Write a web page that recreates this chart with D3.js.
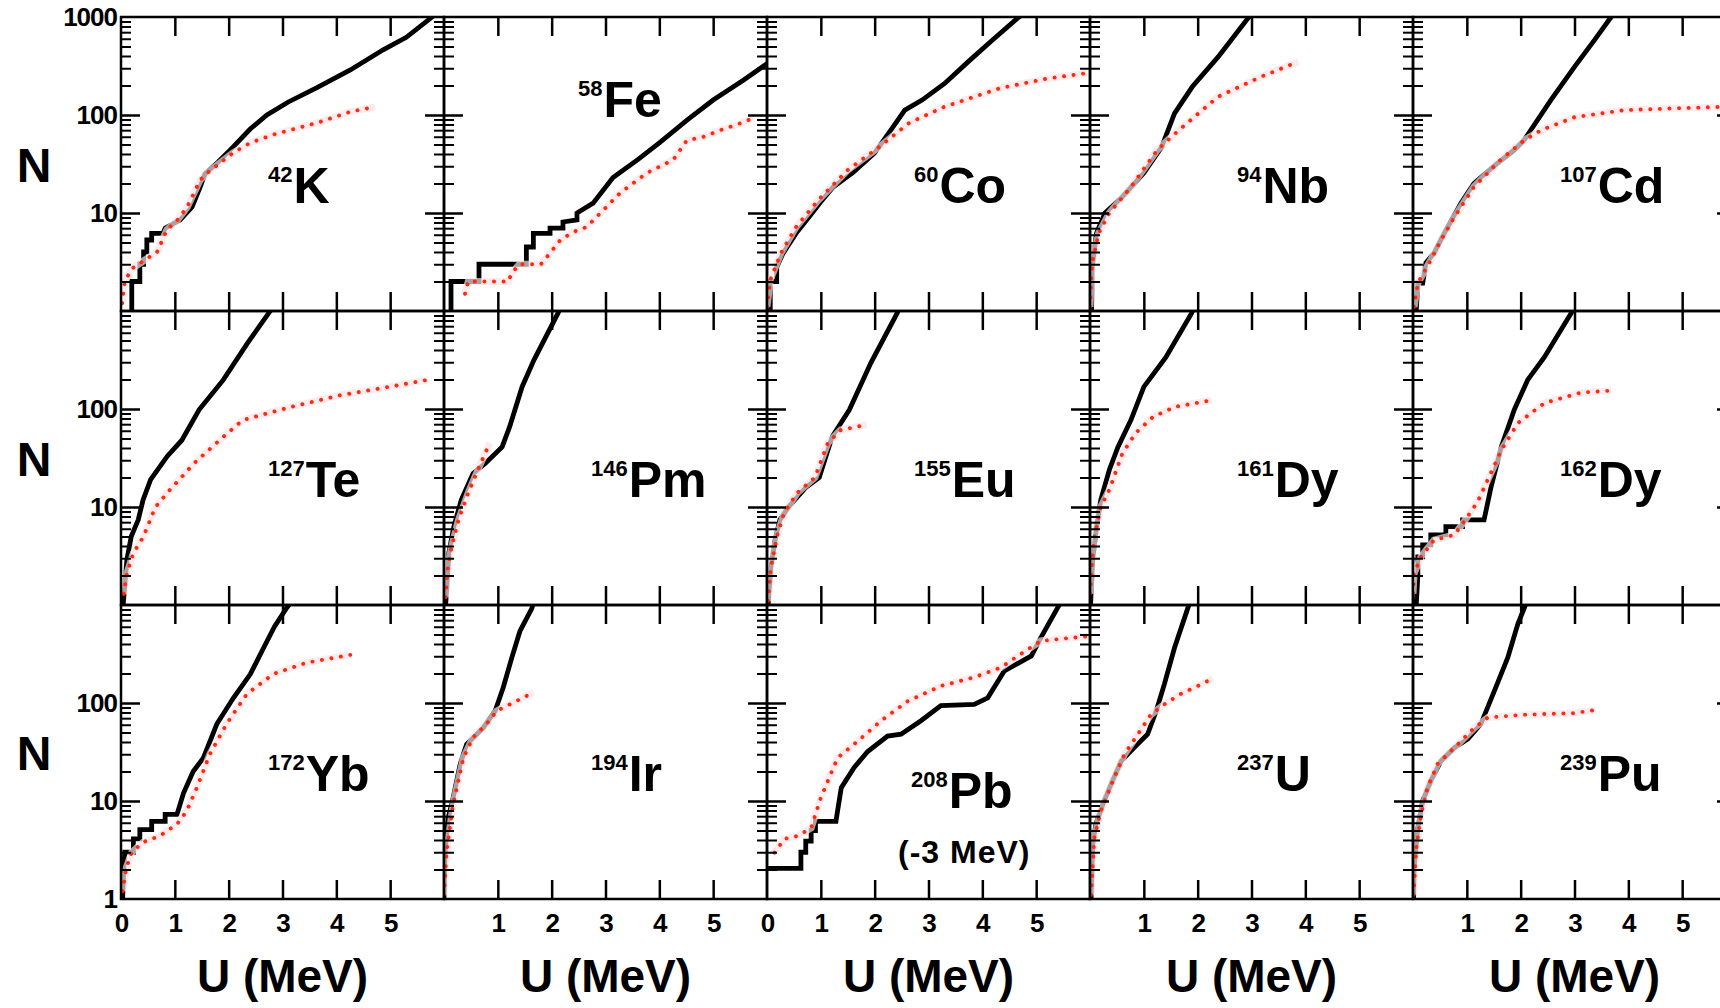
<!DOCTYPE html>
<html>
<head>
<meta charset="utf-8">
<script src="https://cdn.jsdelivr.net/npm/d3@7"></script>
<style>
  body { margin: 0; background: #fff; }
  svg { display: block; font-family: "Liberation Sans", Arial, sans-serif; font-weight: bold; }
</style>
</head>
<body>
<svg id="chart"></svg>
<script>
// nucleus labels, panel order left-to-right, top-to-bottom
var massNumbers = ["42", "58", "60", "94", "107", "127", "146", "155", "161", "162", "172", "194", "208", "237", "239"];
var symbols = ["K", "Fe", "Co", "Nb", "Cd", "Te", "Pm", "Eu", "Dy", "Dy", "Yb", "Ir", "Pb", "U", "Pu"];
var pbNote = "(-3 MeV)";

// tick labels
var xTicks = [1, 2, 3, 4, 5];
var xTickLabels = [[0, 1, 2, 3, 4, 5], [1, 2, 3, 4, 5], [0, 1, 2, 3, 4, 5], [1, 2, 3, 4, 5], [1, 2, 3, 4, 5]];
var yTickLabels = [[10, 100, 1000], [10, 100], [1, 10, 100]];
var decades = [10, 100];

// [U (MeV), N] experimental (black) and model (red dotted)
var k42Exp = [[0.2,1],[0.2,2],[0.35,2],[0.35,3],[0.42,3],[0.42,4],[0.48,4],[0.48,5.3],[0.57,5.3],[0.57,6.2],[0.78,6.2],[0.82,7],[1.1,8.5],[1.32,11.5],[1.47,18.4],[1.56,25],[1.8,33],[2.08,47],[2.4,72],[2.71,100],[3.1,135],[3.64,190],[4.26,288],[4.87,463],[5.3,620],[5.78,1000],[5.85,1080]];
var k42Model = [[0.02,1.2],[0.07,2],[0.2,2.7],[0.4,3.2],[0.67,4],[0.85,6.7],[1.05,8.5],[1.23,11.5],[1.47,21.7],[1.6,25.6],[2.08,41],[2.4,52],[2.83,63],[3.64,83],[4.26,108],[4.72,121]];
var fe58Exp = [[0.13,1],[0.13,2],[0.65,2],[0.65,3],[1.53,3],[1.53,4.5],[1.66,4.5],[1.66,6.2],[1.97,6.2],[1.97,7],[2.21,7],[2.21,8.1],[2.47,8.5],[2.47,10],[2.77,12.6],[3.14,23],[3.6,35],[4.0,52],[4.52,89],[5.0,142],[5.56,226],[5.97,325],[6.05,345]];
var fe58Model = [[0.39,1.5],[0.45,2],[1.2,2],[1.25,2.4],[1.4,3],[1.8,3],[1.97,3.9],[2.16,5.3],[2.4,6.4],[2.65,7.2],[2.96,10.7],[3.27,16],[3.77,25.6],[4.26,35],[4.51,55],[4.82,60],[5.13,70],[5.5,82],[5.74,93]];
var co60Exp = [[0.06,1],[0.06,2],[0.18,2],[0.18,2.8],[0.3,3.9],[0.54,6.2],[0.78,9.1],[1.0,13],[1.23,18.4],[1.6,26],[2.0,41],[2.3,70],[2.56,112],[2.88,142],[3.3,210],[3.77,363],[4.2,590],[4.66,980],[4.8,1100]];
var co60Model = [[0,1.1],[0.06,2.07],[0.26,3.9],[0.54,7.2],[0.95,13.5],[1.5,27.5],[2.08,47],[2.64,83],[3.29,121],[4.33,188],[5.2,235],[5.95,268]];
var nb94Exp = [[0.03,1],[0.04,2.8],[0.12,6.2],[0.28,10],[0.6,14.6],[1.0,25.6],[1.33,47],[1.57,104],[1.9,194],[2.38,392],[2.94,980],[3.0,1060]];
var nb94Model = [[0,1.1],[0.04,3.1],[0.16,6.2],[0.36,10],[0.76,18.4],[1.25,44],[1.65,70],[2.38,154],[3.18,246],[3.87,350]];
var cd107Exp = [[0.06,1],[0.09,1.93],[0.18,1.93],[0.24,3.1],[0.39,3.9],[0.58,6.2],[0.89,12.6],[1.13,20],[1.5,30],[1.88,44],[2.06,55],[2.56,142],[3.0,310],[3.37,580],[3.68,1000],[3.75,1080]];
var cd107Model = [[0.02,1.1],[0.09,1.93],[0.33,3.3],[0.52,5.3],[0.77,9.1],[1.13,18.4],[1.63,35],[2.06,55],[2.38,70],[3.0,95],[3.92,112],[4.85,117],[5.72,121],[6.0,123]];
var te127Exp = [[0.04,1],[0.11,2.9],[0.19,5],[0.32,7.4],[0.41,11.8],[0.55,19],[0.86,33],[1.13,48],[1.45,98],[1.9,198],[2.35,470],[2.76,980],[2.8,1050]];
var te127Model = [[0.05,1.3],[0.11,2.1],[0.23,3.4],[0.41,4.9],[0.64,10],[0.91,15],[1.36,28],[1.9,52],[2.26,77],[3.16,105],[4.07,138],[4.97,168],[5.69,198]];
var pm146Exp = [[0.03,1],[0.09,3.4],[0.18,6.2],[0.32,11.8],[0.54,22],[0.77,28],[1.08,41],[1.22,66],[1.45,168],[1.67,316],[2.12,955],[2.15,1050]];
var pm146Model = [[0.03,1.2],[0.07,2.4],[0.14,3.9],[0.27,7.4],[0.45,13.9],[0.63,24],[0.85,45]];
var eu155Exp = [[0.02,1],[0.07,2.4],[0.15,4.6],[0.24,7.4],[0.4,10],[0.73,16],[0.97,20],[1.21,52],[1.53,98],[1.93,296],[2.42,955],[2.45,1050]];
var eu155Model = [[0.02,1.1],[0.07,2.4],[0.2,5.4],[0.32,8.7],[0.56,13.9],[0.89,20],[1.13,45],[1.37,61],[1.85,69]];
var dy161Exp = [[0.01,1],[0.05,2.9],[0.12,6.2],[0.2,11.8],[0.36,24],[0.52,41],[0.76,77],[1.0,168],[1.41,338],[1.89,955],[1.92,1050]];
var dy161Model = [[0,1.3],[0.07,4.6],[0.2,10],[0.36,15],[0.6,35],[0.85,57],[1.17,83],[1.57,105],[2.26,123]];
var dy162Exp = [[0.06,1],[0.09,2],[0.09,3.1],[0.18,3.1],[0.18,4.1],[0.33,4.1],[0.33,5.2],[0.61,5.2],[0.61,6.3],[0.92,6.3],[0.92,7.4],[1.32,7.4],[1.45,16],[1.64,41],[1.88,98],[2.13,198],[2.44,338],[2.94,955],[2.97,1050]];
var dy162Model = [[0,1.3],[0.02,2.1],[0.15,3.1],[0.39,4.6],[0.77,5.2],[0.95,7.1],[1.2,11.3],[1.39,19],[1.64,38],[1.95,72],[2.44,115],[3.12,147],[3.68,154]];
var yb172Exp = [[0.03,1],[0.05,2],[0.07,3],[0.23,3],[0.23,4.1],[0.35,4.1],[0.35,5.1],[0.57,5.1],[0.57,6.2],[0.82,6.2],[0.82,7.3],[1.04,7.3],[1.16,12],[1.34,20],[1.53,27.5],[1.78,61],[2.09,113],[2.4,196],[2.65,366],[2.85,600],[3.08,940],[3.15,1050]];
var yb172Model = [[0.03,1.2],[0.1,2.1],[0.2,3.0],[0.41,3.8],[0.72,4.4],[1.04,5.8],[1.22,7.9],[1.41,13.7],[1.65,30],[1.96,61],[2.34,124],[2.83,198],[3.45,258],[4.26,310]];
var ir194Exp = [[0,1],[0.02,3.1],[0.08,6.8],[0.17,10.8],[0.3,23.7],[0.42,38],[0.73,56],[0.95,83],[1.1,144],[1.26,290],[1.41,540],[1.63,920],[1.66,1050]];
var ir194Model = [[0,1.1],[0.05,3.1],[0.17,9.3],[0.36,27.5],[0.54,44.6],[0.79,61],[0.98,83],[1.35,105],[1.66,128]];
var pb208Exp = [[0,2.05],[0.63,2.05],[0.63,3],[0.72,3],[0.72,3.9],[0.82,3.9],[0.82,5],[0.9,5],[0.9,6.2],[1.28,6.2],[1.38,13.7],[1.62,22],[1.87,32],[2.24,46],[2.49,48],[2.86,66],[3.23,94],[3.85,97],[4.1,113],[4.41,213],[4.91,302],[5.09,467],[5.4,940],[5.45,1050]];
var pb208Model = [[0.14,2.97],[0.32,4.1],[0.57,4.4],[0.82,5.3],[1.0,10.8],[1.31,27.5],[1.69,41],[2.12,66],[2.62,105],[3.23,149],[3.85,183],[4.35,231],[4.66,302],[5.09,430],[5.96,480]];
var u237Exp = [[0.02,1],[0.05,3.6],[0.11,5.8],[0.24,9.3],[0.39,14.8],[0.58,25.6],[0.82,35],[1.07,48],[1.23,83],[1.38,155],[1.57,366],[1.82,940],[1.85,1050]];
var u237Model = [[0.02,1.1],[0.08,4.2],[0.2,7.9],[0.45,17.3],[0.64,30],[0.89,48],[1.13,76],[1.38,97],[1.69,124],[2.0,149],[2.28,178]];
var pu239Exp = [[0.01,1],[0.02,2.1],[0.09,5.3],[0.18,10],[0.33,16],[0.52,25.6],[0.77,35],[1.02,43],[1.26,61],[1.51,132],[1.76,290],[1.95,645],[2.07,940],[2.1,1050]];
var pu239Model = [[0.01,1.1],[0.06,3.3],[0.15,7.3],[0.27,13.7],[0.46,24],[0.77,35],[1.14,56],[1.39,71],[2.07,76],[3.0,79],[3.4,85]];

var expSeries = [k42Exp, fe58Exp, co60Exp, nb94Exp, cd107Exp, te127Exp, pm146Exp, eu155Exp, dy161Exp, dy162Exp, yb172Exp, ir194Exp, pb208Exp, u237Exp, pu239Exp];
var modelSeries = [k42Model, fe58Model, co60Model, nb94Model, cd107Model, te127Model, pm146Model, eu155Model, dy161Model, dy162Model, yb172Model, ir194Model, pb208Model, u237Model, pu239Model];


var width = 1720, height = 1008;
var marginLeft = 121, marginTop = 17, panelW = 323, panelH = 294;

var svg = d3.select('#chart')
  .attr('width', width)
  .attr('height', height);

var x = d3.scaleLinear().domain([0, 6]).range([0, panelW]);
var y = d3.scaleLog().domain([1, 1000]).range([panelH, 0]);
var minorTicks = y.ticks().filter(d => [1, 10, 100, 1000].indexOf(d) < 0);

var line = d3.line()
  .x(d => x(d[0]))
  .y(d => y(d[1]));

for (var i = 0; i < expSeries.length; i++) {
  drawPanel(i);
}
drawAxisTitles();


function drawPanel(i) {
  var col = i % 5, row = Math.floor(i / 5);
  var g = svg.append('g')
    .attr('transform', 'translate(' + (marginLeft + col * panelW) + ',' + (marginTop + row * panelH) + ')');

  g.append('clipPath')
    .attr('id', 'clip' + i)
    .append('rect')
    .attr('width', panelW)
    .attr('height', panelH);

  var plot = g.append('g').attr('clip-path', 'url(#clip' + i + ')');

  plot.append('path')
    .datum(expSeries[i])
    .attr('d', line)
    .attr('fill', 'none')
    .attr('stroke', '#000')
    .attr('stroke-width', 4.8);

  // faint halo under the dots, like the scanned figure
  plot.append('path')
    .datum(modelSeries[i])
    .attr('d', line)
    .attr('fill', 'none')
    .attr('stroke', '#f7e3e8')
    .attr('stroke-width', 7)
    .attr('stroke-opacity', 0.7);

  plot.append('path')
    .datum(modelSeries[i])
    .attr('d', line)
    .attr('fill', 'none')
    .attr('stroke', '#ff2a08')
    .attr('stroke-width', 3.9)
    .attr('stroke-linecap', 'round')
    .attr('stroke-dasharray', '0.1 9.5');

  // frame
  g.append('rect')
    .attr('width', panelW)
    .attr('height', panelH)
    .attr('fill', 'none')
    .attr('stroke', '#000')
    .attr('stroke-width', 2.5);

  // ticks, all pointing inward
  addTicks(g, d3.axisTop(x).tickValues(xTicks).tickSize(-19), 0, 0, 2.5);
  addTicks(g, d3.axisBottom(x).tickValues(xTicks).tickSize(-19), 0, panelH, 2.5);
  addTicks(g, d3.axisLeft(y).tickValues(decades).tickSize(-19), 0, 0, 2.5);
  addTicks(g, d3.axisLeft(y).tickValues(minorTicks).tickSize(-10), 0, 0, 2);
  addTicks(g, d3.axisRight(y).tickValues(decades).tickSize(-19), panelW, 0, 2.5);
  addTicks(g, d3.axisRight(y).tickValues(minorTicks).tickSize(-10), panelW, 0, 2);

  if (col === 0) {
    var yl = g.append('g')
      .call(d3.axisLeft(y).tickValues(yTickLabels[row]).tickSize(0).tickPadding(4).tickFormat(d3.format('d')));
    styleLabels(yl);
  }
  if (row === 2) {
    var xl = g.append('g')
      .attr('transform', 'translate(0,' + panelH + ')')
      .call(d3.axisBottom(x).tickValues(xTickLabels[col]).tickSize(0).tickPadding(15).tickFormat(d3.format('d')));
    styleLabels(xl);
  }

  drawNucleus(g, i);
}

function addTicks(g, axis, tx, ty, w) {
  var a = g.append('g')
    .attr('transform', 'translate(' + tx + ',' + ty + ')')
    .call(axis.tickFormat(''));
  a.select('.domain').remove();
  a.selectAll('line').attr('stroke', '#000').attr('stroke-width', w);
}

function styleLabels(a) {
  a.select('.domain').remove();
  a.attr('font-family', null).attr('font-size', null);
  a.selectAll('text')
    .attr('fill', '#000')
    .style('font-size', '26px')
    .style('letter-spacing', '-1px');
}

function drawNucleus(g, i) {
  var px = 147, py = 186;
  if (symbols[i] === 'Fe') { px = 134; py = 100; }
  if (symbols[i] === 'Pb') { px = 144; py = 203; }

  var sup = g.append('text')
    .attr('x', px)
    .attr('y', py - 21)
    .style('font-size', '22px')
    .text(massNumbers[i]);
  var supW = sup.node().getComputedTextLength();

  g.append('text')
    .attr('x', px + supW + 1)
    .attr('y', py)
    .style('font-size', '50px')
    .text(symbols[i]);

  if (symbols[i] === 'Pb') {
    g.append('text')
      .attr('x', 131)
      .attr('y', 258)
      .style('font-size', '32px')
      .style('letter-spacing', '1px')
      .text(pbNote);
  }
}

function drawAxisTitles() {
  for (var r = 0; r < 3; r++) {
    svg.append('text')
      .attr('x', 34)
      .attr('y', marginTop + r * panelH + panelH / 2 + 18)
      .attr('text-anchor', 'middle')
      .style('font-size', '48px')
      .text('N');
  }
  for (var c = 0; c < 5; c++) {
    svg.append('text')
      .attr('x', marginLeft + c * panelW + panelW / 2)
      .attr('y', 992)
      .attr('text-anchor', 'middle')
      .style('font-size', '46px')
      .text('U (MeV)');
  }
}
</script>
</body>
</html>
